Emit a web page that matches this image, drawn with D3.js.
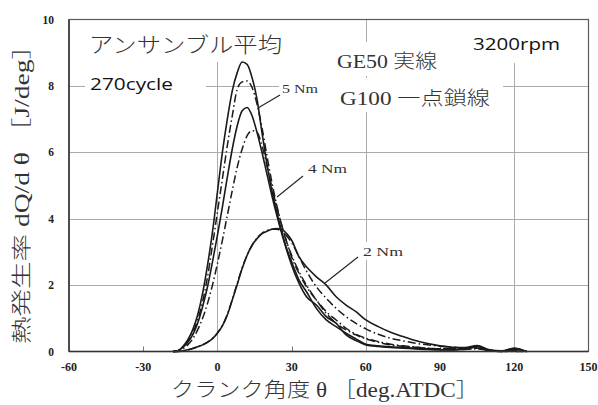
<!DOCTYPE html>
<html>
<head>
<meta charset="utf-8">
<script src="https://cdn.jsdelivr.net/npm/d3@7"></script>
<style>
  body { margin: 0; background: #fff; }
  svg { display: block; }
</style>
</head>
<body>
<svg id="chart" width="598" height="405"></svg>
<script>
// Crank angle (deg ATDC)
const theta = [-18,-16,-14,-12,-10,-8,-6,-4,-2,0,2,4,6,8,10,12,14,16,18,20,22,24,26,28,30,33,36,40,44,48,52,56,60,65,70,75,80,85,90,95,100,105,110,115,120,125];

// Heat release rate dQ/dθ [J/deg]
const ge50_5Nm = [0,0.02,0.15,0.35,0.65,1.1,1.75,2.6,3.6,4.8,6.0,7.0,7.85,8.4,8.72,8.65,8.25,7.6,6.6,5.65,4.85,4.2,3.6,3.1,2.7,2.15,1.8,1.3,0.95,0.75,0.55,0.38,0.22,0.17,0.14,0.12,0.1,0.08,0.06,0.05,0.1,0.15,0.02,0.02,0.1,0];
const g100_5Nm = [0,0.02,0.12,0.3,0.55,0.95,1.5,2.25,3.2,4.2,5.2,6.2,7.1,7.9,8.12,8.15,7.95,7.45,6.75,5.9,5.1,4.4,3.8,3.3,2.9,2.4,2.0,1.55,1.15,0.85,0.65,0.5,0.38,0.28,0.2,0.16,0.13,0.1,0.08,0.1,0.06,0.1,0.03,0,0.05,0];
const ge50_4Nm = [0,0.02,0.12,0.28,0.5,0.85,1.35,1.95,2.7,3.5,4.35,5.25,6.1,6.8,7.25,7.35,7.1,6.6,6.0,5.35,4.7,4.1,3.55,3.05,2.6,2.05,1.65,1.4,1.05,0.85,0.5,0.33,0.2,0.15,0.12,0.1,0.08,0.06,0.05,0.05,0.07,0.15,0.03,0,0.1,0];
const g100_4Nm = [0,0.01,0.08,0.2,0.38,0.65,1.0,1.45,2.0,2.65,3.35,4.1,4.85,5.55,6.1,6.5,6.65,6.6,6.2,5.6,4.95,4.35,3.8,3.3,2.85,2.35,1.95,1.55,1.2,0.95,0.7,0.52,0.4,0.3,0.22,0.17,0.13,0.1,0.08,0.1,0.07,0.08,0.03,0,0.04,0];
const ge50_2Nm = [0,0,0.02,0.05,0.09,0.14,0.2,0.28,0.39,0.55,0.77,1.1,1.55,2.02,2.5,2.9,3.2,3.4,3.55,3.62,3.68,3.7,3.68,3.55,3.35,2.85,2.55,2.25,2.0,1.65,1.4,1.2,0.95,0.75,0.58,0.45,0.33,0.24,0.17,0.13,0.12,0.18,0.05,0.02,0.06,0];
const g100_2Nm = [0,0,0.02,0.05,0.09,0.14,0.2,0.28,0.39,0.56,0.78,1.12,1.57,2.05,2.52,2.9,3.2,3.42,3.56,3.64,3.68,3.68,3.62,3.48,3.28,2.85,2.42,1.95,1.6,1.3,1.05,0.85,0.68,0.52,0.4,0.32,0.25,0.2,0.16,0.13,0.1,0.12,0.05,0.01,0,0];

const xTicks = [-60,-30,0,30,60,90,120,150];
const xGrid = [0,60,120];
const yTicks = [0,2,4,6,8,10];

const series = [
  { name: "GE50 5 Nm", values: ge50_5Nm, dashed: false },
  { name: "G100 5 Nm", values: g100_5Nm, dashed: true },
  { name: "GE50 4 Nm", values: ge50_4Nm, dashed: false },
  { name: "G100 4 Nm", values: g100_4Nm, dashed: true },
  { name: "GE50 2 Nm", values: ge50_2Nm, dashed: false },
  { name: "G100 2 Nm", values: g100_2Nm, dashed: true }
];

const margin = { left: 69, right: 598 - 588.5, top: 19.5, bottom: 405 - 351.5 };
const W = 598, H = 405;
const svg = d3.select("#chart");

const x = d3.scaleLinear().domain([-60, 150]).range([margin.left, W - margin.right]);
const y = d3.scaleLinear().domain([0, 10]).range([H - margin.bottom, margin.top]);

const serifJP = "'Liberation Serif', 'Noto Sans CJK JP', serif";
const sans = "'Open Sans', 'Noto Sans', sans-serif";

// grid
const grid = svg.append("g").attr("stroke", "#ababab").attr("stroke-width", 1);
grid.selectAll("line.h").data(yTicks.filter(d => d > 0 && d < 10)).join("line")
  .attr("x1", x(-60)).attr("x2", x(150))
  .attr("y1", d => Math.round(y(d)) + 0.5).attr("y2", d => Math.round(y(d)) + 0.5);
grid.selectAll("line.v").data(xGrid).join("line")
  .attr("y1", y(0)).attr("y2", y(10))
  .attr("x1", d => Math.round(x(d)) + 0.5).attr("x2", d => Math.round(x(d)) + 0.5);

// minor ticks on the bottom axis
svg.append("g").attr("stroke", "#777").attr("stroke-width", 1)
  .selectAll("line").data(xTicks.filter(d => !xGrid.includes(d) && d > -60 && d < 150)).join("line")
  .attr("x1", d => Math.round(x(d)) + 0.5).attr("x2", d => Math.round(x(d)) + 0.5)
  .attr("y1", y(0)).attr("y2", y(0) - 5);

// white text boxes laid over the grid
const boxes = [
  [85, 20, 203, 42],
  [85, 66, 121, 34],
  [466, 20, 96, 43],
  [330, 42, 118, 34],
  [330, 78, 173, 34],
  [279, 78, 51, 20],
  [360, 242, 46, 18]
];
svg.append("g").selectAll("rect").data(boxes).join("rect")
  .attr("x", d => d[0]).attr("y", d => d[1]).attr("width", d => d[2]).attr("height", d => d[3])
  .attr("fill", "#fff");

// curves
const line = d3.line()
  .x((d, i) => x(theta[i]))
  .y(d => y(d))
  .curve(d3.curveMonotoneX);

svg.append("g").attr("fill", "none").attr("stroke-linejoin", "round")
  .selectAll("path").data(series).join("path")
  .attr("d", d => line(d.values))
  .attr("stroke", "#1a1a1a")
  .attr("stroke-width", d => d.dashed ? 1.5 : 1.6)
  .attr("stroke-dasharray", d => d.dashed ? "8,3,1.5,3" : null);

// frame
svg.append("rect")
  .attr("x", x(-60)).attr("y", y(10))
  .attr("width", x(150) - x(-60)).attr("height", y(0) - y(10))
  .attr("fill", "none").attr("stroke", "#5a5a5a").attr("stroke-width", 1.2);
svg.append("line").attr("x1", x(-60)).attr("x2", x(150)).attr("y1", y(0)).attr("y2", y(0))
  .attr("stroke", "#333").attr("stroke-width", 1.5);
svg.append("line").attr("x1", x(-60)).attr("x2", x(-60)).attr("y1", y(0)).attr("y2", y(10))
  .attr("stroke", "#333").attr("stroke-width", 1.5);

// tick labels
const tickFont = "'Liberation Serif', 'Times New Roman', serif";
svg.append("g").selectAll("text").data(xTicks).join("text")
  .attr("x", d => x(d)).attr("y", y(0) + 19)
  .attr("text-anchor", "middle")
  .attr("font-family", tickFont).attr("font-weight", "bold").attr("font-size", 12)
  .attr("fill", "#222")
  .text(d => d);
svg.append("g").selectAll("text").data(yTicks).join("text")
  .attr("x", 54).attr("y", d => y(d) + 4)
  .attr("text-anchor", "end")
  .attr("font-family", tickFont).attr("font-weight", "bold").attr("font-size", 11.5)
  .attr("fill", "#222")
  .text(d => d);

// axis titles
svg.append("text")
  .attr("x", 325).attr("y", 397)
  .attr("text-anchor", "middle")
  .attr("font-family", serifJP).attr("font-size", 20).attr("font-weight", 300).attr("fill", "#333")
  .attr("textLength", 308).attr("lengthAdjust", "spacingAndGlyphs")
  .text("クランク角度 θ ［deg.ATDC］");
svg.append("text")
  .attr("transform", "translate(29,188) rotate(-90)")
  .attr("text-anchor", "middle")
  .attr("font-family", serifJP).attr("font-size", 20).attr("font-weight", 300).attr("fill", "#333")
  .attr("textLength", 312).attr("lengthAdjust", "spacingAndGlyphs")
  .text("熱発生率 dQ/d θ ［J/deg］");

// annotations
const notes = [
  { t: "アンサンブル平均", x: 89, y: 52, f: serifJP, s: 21, w: 193 },
  { t: "270cycle", x: 90, y: 90, f: sans, s: 17, w: 83 },
  { t: "3200rpm", x: 473, y: 50, f: sans, s: 17, w: 87 },
  { t: "GE50 実線", x: 337, y: 68, f: serifJP, s: 19, w: 100 },
  { t: "G100 一点鎖線", x: 340, y: 105, f: serifJP, s: 19, w: 150 },
  { t: "5 Nm", x: 282, y: 93, f: serifJP, s: 13, w: 36 },
  { t: "4 Nm", x: 308, y: 173, f: serifJP, s: 13, w: 39 },
  { t: "2 Nm", x: 363, y: 256, f: serifJP, s: 13, w: 40 }
];
svg.append("g").selectAll("text").data(notes).join("text")
  .attr("x", d => d.x).attr("y", d => d.y)
  .attr("font-family", d => d.f).attr("font-size", d => d.s)
  .attr("font-weight", d => d.f === sans ? 400 : 300)
  .attr("fill", d => d.f === sans ? "#111" : "#333")
  .attr("textLength", d => d.w).attr("lengthAdjust", "spacingAndGlyphs")
  .text(d => d.t);

// leader lines from labels to curves
const leaders = [
  [280, 95, 258, 108],
  [303, 176, 277, 197],
  [358, 257, 325, 283]
];
svg.append("g").attr("stroke", "#222").attr("stroke-width", 1.1)
  .selectAll("line").data(leaders).join("line")
  .attr("x1", d => d[0]).attr("y1", d => d[1]).attr("x2", d => d[2]).attr("y2", d => d[3]);
</script>
</body>
</html>
